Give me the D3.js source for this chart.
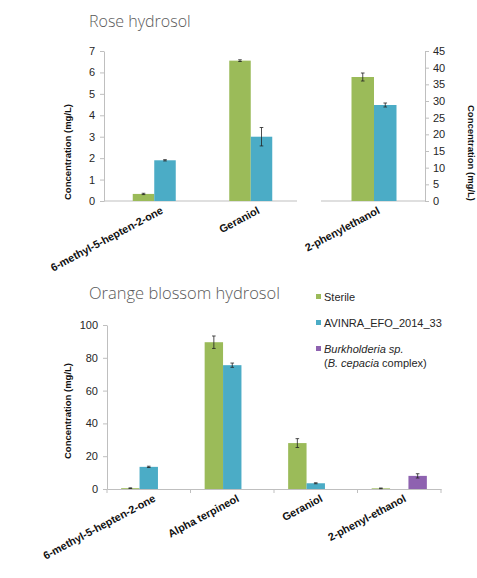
<!DOCTYPE html>
<html>
<head>
<meta charset="utf-8">
<script src="https://cdn.jsdelivr.net/npm/d3@7"></script>
<style>
  body { margin: 0; background: #fff; }
  svg { display: block; }
  .tick text, .lbl { font-family: "Liberation Sans", Arial, sans-serif; }
  .title { font-family: "Open Sans", sans-serif; font-weight: 300; fill: #595959; }
</style>
</head>
<body>
<div id="chart"></div>
<script>
var width = 477, height = 578;

// rose hydrosol (left axis)
var roseCats = ["6-methyl-5-hepten-2-one", "Geraniol"];
var roseSterile = [0.33, 6.55], roseSterileErr = [0.03, 0.04];
var roseAvinra = [1.9, 3.0], roseAvinraErr = [0.03, 0.43];
// rose hydrosol (right axis)
var roseRightCats = ["2-phenylethanol"];
var rosePheSterile = [37.2], rosePheSterileErr = [1.2];
var rosePheAvinra = [28.8], rosePheAvinraErr = [0.6];
var roseLeftTicks = [0, 1, 2, 3, 4, 5, 6, 7];
var roseRightTicks = [0, 5, 10, 15, 20, 25, 30, 35, 40, 45];

// orange blossom hydrosol
var orangeCats = ["6-methyl-5-hepten-2-one", "Alpha terpineol", "Geraniol", "2-phenyl-ethanol"];
var orangeSterile = [0.5, 89.5, 28, 0.4], orangeSterileErr = [0.2, 3.8, 2.7, 0.2];
var orangeAvinra = [13.5, 75.5, 3.5, null], orangeAvinraErr = [0.4, 1.3, 0.3, null];
var orangeBurk = [null, null, null, 8], orangeBurkErr = [null, null, null, 1.3];
var orangeTicks = [0, 20, 40, 60, 80, 100];

var green = "#9bbb59", blue = "#4bacc6", purple = "#8e62b0";
var axisGray = "#bfbfbf";

var svg = d3.select("#chart").append("svg")
  .attr("width", width)
  .attr("height", height);

function drawBars(g, cats, series, x, y, barW, slots) {
  // series: [{vals, errs, color, slot}]
  series.forEach(function(s) {
    cats.forEach(function(c, i) {
      var v = s.vals[i];
      if (v == null) return;
      var x0 = x(c) + x.bandwidth() / 2 - slots * barW / 2 + s.slot * barW;
      g.append("rect")
        .attr("x", x0).attr("width", barW)
        .attr("y", y(v)).attr("height", y(0) - y(v))
        .attr("fill", s.color);
      var e = s.errs[i];
      if (e) {
        var cx = x0 + barW / 2;
        g.append("line").attr("x1", cx).attr("x2", cx)
          .attr("y1", y(v + e)).attr("y2", y(Math.max(0, v - e)))
          .attr("stroke", "#222").attr("stroke-width", 0.8);
        [v + e, Math.max(0, v - e)].forEach(function(t) {
          g.append("line").attr("x1", cx - 1.8).attr("x2", cx + 1.8)
            .attr("y1", y(t)).attr("y2", y(t))
            .attr("stroke", "#222").attr("stroke-width", 0.8);
        });
      }
    });
  });
}

function styleAxis(a) {
  a.select(".domain").attr("stroke", axisGray);
  a.selectAll(".tick line").attr("stroke", axisGray);
  a.selectAll(".tick text").attr("fill", "#262626").attr("font-size", "11px");
}

function catLabels(g, cats, x, base, dx) {
  cats.forEach(function(c) {
    g.append("text").attr("class", "lbl")
      .attr("transform", "translate(" + (x(c) + x.bandwidth() / 2 + dx) + "," + (base + 5) + ") rotate(-28)")
      .attr("text-anchor", "end")
      .attr("dy", "0.71em")
      .attr("font-size", "10.8px")
      .attr("font-weight", "bold")
      .attr("fill", "#111")
      .text(c);
  });
}

// ---------- Rose hydrosol ----------
var gTop = svg.append("g");
gTop.append("text").attr("class", "title")
  .attr("x", 89).attr("y", 27).attr("font-size", "16px")
  .text("Rose hydrosol");

var yL = d3.scaleLinear().domain([0, 7]).range([201, 51]);
var yR = d3.scaleLinear().domain([0, 45]).range([201, 51]);
var xL = d3.scaleBand().domain(roseCats).range([106, 299]);
var xR = d3.scaleBand().domain(roseRightCats).range([323, 425]);

var ayL = gTop.append("g").attr("transform", "translate(104,0)")
  .call(d3.axisLeft(yL).tickValues(roseLeftTicks).tickFormat(d3.format("d"))
    .tickSize(4).tickSizeOuter(0).tickPadding(5));
styleAxis(ayL);
var ayR = gTop.append("g").attr("transform", "translate(425,0)")
  .call(d3.axisRight(yR).tickValues(roseRightTicks).tickFormat(d3.format("d"))
    .tickSize(4).tickSizeOuter(0).tickPadding(4));
styleAxis(ayR);

gTop.append("line").attr("x1", 104).attr("x2", 297).attr("y1", yL(0)).attr("y2", yL(0))
  .attr("stroke", axisGray);
gTop.append("line").attr("x1", 321).attr("x2", 425).attr("y1", yR(0)).attr("y2", yR(0))
  .attr("stroke", axisGray);

drawBars(gTop, roseCats, [
  {vals: roseSterile, errs: roseSterileErr, color: green, slot: 0},
  {vals: roseAvinra, errs: roseAvinraErr, color: blue, slot: 1}
], xL, yL, 21.5, 2);
drawBars(gTop, roseRightCats, [
  {vals: rosePheSterile, errs: rosePheSterileErr, color: green, slot: 0},
  {vals: rosePheAvinra, errs: rosePheAvinraErr, color: blue, slot: 1}
], xR, yR, 22.5, 2);

catLabels(gTop, roseCats, xL, 201, 6);
catLabels(gTop, roseRightCats, xR, 201, 3);

gTop.append("text").attr("class", "lbl")
  .attr("transform", "translate(71,152) rotate(-90)")
  .attr("text-anchor", "middle").attr("font-size", "9.5px").attr("font-weight", "bold")
  .attr("fill", "#111").text("Concentration (mg/L)");
gTop.append("text").attr("class", "lbl")
  .attr("transform", "translate(468,153) rotate(90)")
  .attr("text-anchor", "middle").attr("font-size", "9.5px").attr("font-weight", "bold")
  .attr("fill", "#111").text("Concentration (mg/L)");

// ---------- Orange blossom hydrosol ----------
var gBot = svg.append("g");
gBot.append("text").attr("class", "title")
  .attr("x", 89).attr("y", 299).attr("font-size", "16.5px")
  .text("Orange blossom hydrosol");

var yB = d3.scaleLinear().domain([0, 100]).range([489, 325]);
var xB = d3.scaleBand().domain(orangeCats).range([107, 441]);

var ayB = gBot.append("g").attr("transform", "translate(107,0)")
  .call(d3.axisLeft(yB).tickValues(orangeTicks).tickSize(4).tickSizeOuter(0).tickPadding(5));
styleAxis(ayB);

var axB = gBot.append("g").attr("transform", "translate(0," + yB(0) + ")")
  .call(d3.axisBottom(xB).tickSize(0).tickSizeOuter(0).tickFormat(""));
axB.select(".domain").attr("stroke", axisGray);
orangeCats.concat([null]).forEach(function(c) {
  var xx = c ? xB(c) : xB.range()[1];
  gBot.append("line").attr("x1", xx).attr("x2", xx)
    .attr("y1", yB(0)).attr("y2", yB(0) + 4).attr("stroke", axisGray);
});

drawBars(gBot, orangeCats, [
  {vals: orangeSterile, errs: orangeSterileErr, color: green, slot: 0},
  {vals: orangeAvinra, errs: orangeAvinraErr, color: blue, slot: 1},
  {vals: orangeBurk, errs: orangeBurkErr, color: purple, slot: 2}
], xB, yB, 18.4, 3);

catLabels(gBot, orangeCats, xB, 489, 4);

gBot.append("text").attr("class", "lbl")
  .attr("transform", "translate(71,411) rotate(-90)")
  .attr("text-anchor", "middle").attr("font-size", "9.5px").attr("font-weight", "bold")
  .attr("fill", "#111").text("Concentration (mg/L)");

// legend
var legend = [
  {label: "Sterile", color: green, y: 297},
  {label: "AVINRA_EFO_2014_33", color: blue, y: 323},
  {label: "Burkholderia sp.", color: purple, y: 349, italic: true}
];
legend.forEach(function(l) {
  gBot.append("rect").attr("x", 316).attr("y", l.y - 3).attr("width", 5).attr("height", 5)
    .attr("fill", l.color);
  var t = gBot.append("text").attr("class", "lbl")
    .attr("x", 324).attr("y", l.y).attr("dy", "0.35em")
    .attr("font-size", "11px").attr("fill", "#262626");
  if (l.italic) {
    t.append("tspan").attr("font-style", "italic").text("Burkholderia sp.");
  } else {
    t.text(l.label);
  }
});
var t2 = gBot.append("text").attr("class", "lbl")
  .attr("x", 324).attr("y", 363).attr("dy", "0.35em")
  .attr("font-size", "11px").attr("fill", "#262626");
t2.append("tspan").text("(");
t2.append("tspan").attr("font-style", "italic").text("B. cepacia");
t2.append("tspan").text(" complex)");
</script>
</body>
</html>
